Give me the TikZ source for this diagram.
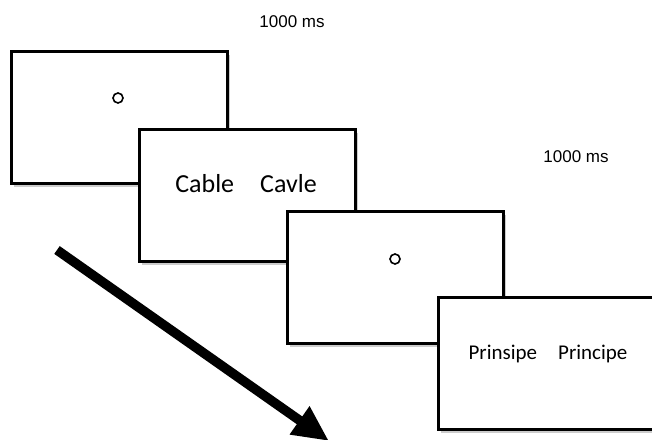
\documentclass[tikz,border=0pt]{standalone}
\usepackage{fontspec}
\setsansfont{Carlito}
\newfontfamily\arialfont{Liberation Sans}
\usetikzlibrary{shadows,arrows.meta}

\begin{document}
\begin{tikzpicture}[x=1pt,y=-1pt,
	screen/.style={draw,line width=3pt,fill=white,minimum width=216pt,minimum height=132pt,inner sep=0pt,
		drop shadow={opacity=0.4,shadow xshift=3pt,shadow yshift=-4pt}},
	fixation/.style={circle,draw,line width=1.6pt,minimum size=10pt,inner sep=0pt},
	word/.style={font=\sffamily\fontsize{26}{30}\selectfont,inner sep=0pt},
	smallword/.style={font=\sffamily\fontsize{21}{25}\selectfont,inner sep=0pt},
	dur/.style={font=\arialfont\fontsize{17}{20}\selectfont,inner sep=0pt}]
	\useasboundingbox (0,0) rectangle (652,439);

	\node[dur] (t1) at (292,22) {1000 ms};
	\node[dur] (t2) at (576,157) {1000 ms};

	\node[screen] (fix1) at (119,117) {};
	\node[fixation] (dot1) at (118,98) {};
	\node[screen] (pair1) at (247,195) {};
	\node[word] (w1) at (246,184) {Cable\hspace{1em}Cavle};
	\node[screen] (fix2) at (395,277) {};
	\node[fixation] (dot2) at (395,259) {};
	\node[screen] (pair2) at (546,363) {};
	\node[smallword] (w2) at (548,354) {Prinsipe\hspace{1em}Principe};

	% time arrow
	\coordinate (tstart) at (57,250);
	\coordinate (tend) at (329,441);
	\draw[line width=9.5pt,-{Triangle[length=36pt,width=32pt]}] (tstart) -- (tend);
\end{tikzpicture}
\end{document}
